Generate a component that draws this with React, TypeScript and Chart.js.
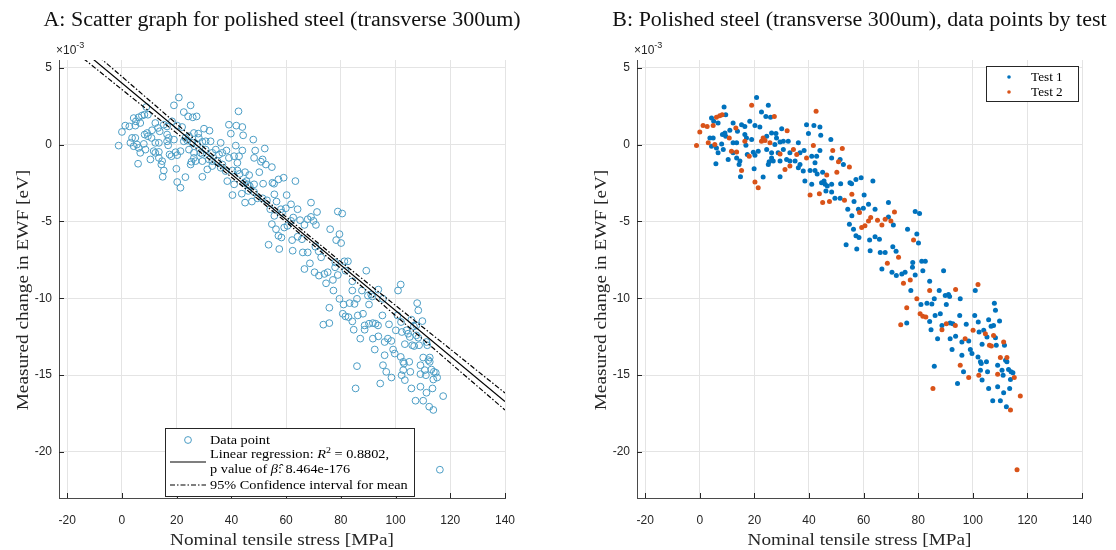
import React, { useEffect, useRef } from "react";
import { Chart, registerables } from "chart.js";

Chart.register(...registerables);

// ---------------- data (units: MPa, x10^-3 eV) ----------------
const test1X = [
  20.8, 8.9, 25.1, 22.6, 24.2, 25.9, 9.5, 4.3, 5.1, 6.7, 12.2, 15.3, 16.5, 18.3, 20.2, 22.0, 11.0, 9.2, 9.5, 8.3,
  13.8, 16.5, 19.0, 17.1, 24.5, 26.3, 27.9, 30.0, 3.7, 4.9, 4.3, 6.1, 8.0, 12.2, 13.5, 16.9, 27.5, 28.1, 29.4, 30.6,
  32.4, 36.1, 6.7, 8.6, 12.2, 19.6, 21.4, 20.2, 17.4, 24.5, 26.3, 28.7, 30.6, 33.0, 36.7, 10.4, 13.5, 14.7, 26.3, 25.4,
  26.9, 29.4, 31.8, 33.0, 34.9, 5.9, 14.4, 25.1, 36.7, 36.1, 19.9, 37.9, 14.9, 23.2, 29.4, 38.5, 39.1,
  41.8, 44.0, 39.8, 44.3, 48.0, 38.2, 41.0, 42.8, 42.2, 44.0, 48.3, 51.4, 52.6, 40.4, 42.2, 43.0, 45.0, 41.0, 45.5, 45.9,
  46.7, 44.6, 48.3, 46.2, 48.3, 49.5, 51.4, 51.6, 55.0, 55.6, 57.2, 59.1, 63.4, 60.2, 56.5, 69.1, 54.2, 58.1, 59.9, 61.8,
  64.2, 55.7, 54.8, 56.3, 57.2, 58.3, 69.1, 70.9, 64.2, 65.8, 62.2, 53.6, 57.5, 62.4, 66.1, 67.9, 70.7, 71.9, 76.1,
  78.9, 80.5, 79.5, 80.1, 78.0, 77.9, 78.9, 81.3, 82.6, 81.7, 77.3, 84.2, 89.3, 75.8, 81.0, 83.2, 85.0, 85.9, 87.7, 89.9,
  91.1, 91.5, 95.4, 90.3, 88.1, 86.2, 84.2, 84.7, 87.1, 85.9, 88.7, 91.7, 92.7, 91.7, 93.7, 95.2, 97.6, 98.5, 96.0, 100.7,
  102.0, 102.3, 104.0, 105.8, 105.2, 103.4, 100.9, 92.4, 96.0, 99.1, 99.7, 101.9, 102.8, 103.1, 102.8, 105.0, 103.4, 96.6,
  94.4, 105.4, 66.7, 70.4, 72.0, 74.0, 75.2,
  107.9, 108.3, 109.8, 107.6, 106.7, 108.3, 111.6, 108.6, 112.0, 112.5, 109.1, 110.7, 111.1, 113.1, 114.0, 114.7, 113.8,
  105.8, 109.1, 113.5, 107.3, 110.1, 111.3, 112.3,
];
const test1Y = [
  3.06, 2.44, 2.55, 2.11, 1.83, 1.77, 1.94, 1.72, 1.51, 1.40, 1.40, 1.29, 1.18, 1.51, 1.23, 1.14, 0.93, 0.75, 0.54, 0.65,
  0.86, 0.65, 0.32, 0.43, 0.54, 0.75, 0.71, 1.03, 0.43, 0.43, -0.11, -0.22, 0.04, 0.11, 0.11, -0.05, 0.0, 0.43, 0.17, 0.21,
  0.21, 0.11, -0.54, -0.33, -0.54, -0.50, -0.43, -0.69, -0.65, -0.33, -0.54, -0.54, -0.33, -0.54, -0.54, -0.97, -0.87, -1.08, -0.87, -1.12,
  -1.08, -1.08, -0.97, -1.08, -1.08, -1.25, -1.30, -1.30, -1.30, -1.51, -1.58, -1.73, -2.10, -2.12, -2.10, -2.38, 1.29,
  1.23, 1.14, 0.71, 0.60, 0.32, -0.39, -0.76, -0.76, -1.19, -0.39, -0.87, -0.97, -1.30, -1.69, -1.69, -1.91, -1.80, -2.59, -2.38, -2.59,
  -2.70, -2.49, -2.59, -3.02, -3.09, -3.50, -3.50, -2.55, -2.49, -2.55, -2.27, -2.16, -2.38, -3.29, -3.71, -3.78, -4.21, -4.21, -4.15, -3.89,
  -4.21, -4.64, -5.18, -5.51, -5.94, -6.05, -4.71, -5.23, -6.00, -6.16, -6.22, -6.52, -6.80, -6.91, -7.02, -7.02, -6.65, -6.95, -5.51,
  -4.36, -4.49, -5.83, -6.41, -7.67, -7.99, -8.49, -7.60, -7.60, -8.21, -9.50, -8.90, -8.21, -11.62, -10.41, -10.32, -10.37, -10.04, -9.50, -9.83,
  -9.76, -9.89, -10.04, -10.41, -11.01, -11.12, -11.51, -12.05, -12.63, -14.42, -11.77, -11.62, -11.66, -12.63, -12.48, -11.12, -11.70, -12.78, -12.85, -11.12,
  -11.55, -12.20, -12.09, -11.40, -12.52, -12.99, -9.50, -13.34, -13.71, -13.34, -13.60, -13.82, -14.14, -14.25, -14.68, -14.14, -15.33, -14.79,
  -15.55, -14.79, -8.10, -8.31, -8.53, -8.42, -8.31,
  -10.32, -10.79, -11.49, -11.77, -11.83, -12.57, -13.06, -13.06, -14.03, -14.14, -14.36, -14.68, -15.01, -14.64, -14.79, -14.85, -15.29,
  -15.87, -15.76, -15.87, -16.67, -16.67, -16.15, -17.06,
];
const test2X = [
  19.0, 27.3, 6.1, 7.3, 8.2, 1.2, 2.7, 4.9, 0.0, 13.2, 10.8, 3.1, -1.2, 5.5, 16.5, 22.6, 23.9, 23.2, 25.7, 32.0,
  11.6, 13.5, 18.1, 29.4, 34.3, 35.5, 31.2, 33.0, 15.3, 20.2, 21.4,
  42.6, 41.6, 39.1, 48.7, 52.2, 50.8, 54.8, 50.2, 46.5, 40.4, 43.8, 45.0, 47.5, 53.0, 55.7, 58.5, 59.3, 60.5, 61.8, 62.6,
  65.1, 66.7, 67.9, 70.0, 71.3, 72.8,
  78.3, 77.1, 74.6, 84.2, 79.5, 75.8, 73.6, 80.7, 81.7, 82.8, 85.4, 90.3, 88.7, 93.6, 97.2, 100.1, 104.6, 106.1, 101.9, 95.4,
  102.2, 98.5, 93.7, 68.7,
  107.6, 106.8, 111.3, 110.1, 112.5, 109.1, 115.2, 117.4, 113.8, 116.2,
];
const test2Y = [
  2.55, 1.83, 1.77, 1.88, 1.94, 1.23, 1.18, 1.23, 0.82, 1.08, 0.43, 0.11, -0.07, 0.0, 0.21, 0.21, 0.26, 0.43, 0.11, 0.90,
  -0.43, -0.48, -0.76, -0.61, -0.33, -0.65, -1.62, -1.40, -1.69, -2.44, -2.81,
  2.16, -0.07, -0.87, -0.39, -0.26, -1.12, -1.47, -1.80, -1.99, -3.29, -3.20, -3.78, -3.71, -3.63, -3.24, -4.43, -5.40, -5.29, -4.97, -4.75,
  -4.92, -5.23, -4.86, -4.97, -4.39, -7.34,
  -6.22, -8.81, -9.03, -9.50, -10.04, -10.62, -11.72, -11.01, -11.18, -11.23, -15.87, -11.66, -12.05, -11.77, -12.63, -12.09, -12.31, -13.06, -9.11, -14.36,
  -15.01, -15.16, -9.44, -7.73,
  -12.42, -13.11, -12.85, -13.86, -13.86, -14.94, -15.16, -16.37, -17.27, -21.16,
];

// fitted line and 95% CI for mean
const fitX = [-23, 140];
const fitY = [7.40, -16.72];
const ciX = [-23, 0, 20, 40, 60, 80, 100, 120, 140];
const ciUpper = [7.93, 4.42, 1.34, -1.72, -4.71, -7.62, -10.47, -13.31, -16.17];
const ciLower = [6.87, 3.58, 0.74, -2.12, -5.05, -8.06, -11.13, -14.21, -17.27];

const X_MIN = -23, X_MAX = 140, X_STEP = 20;
const Y_MIN = -23, Y_MAX = 5.5, Y_STEP = 5;

const titleA = "A: Scatter graph for polished steel (transverse 300um)";
const titleB = "B: Polished steel (transverse 300um), data points by test";
const xAxisLabel = "Nominal tensile stress [MPa]";
const yAxisLabel = "Measured change in EWF [eV]";
const legendB = ["Test 1", "Test 2"];
const r2Value = "0.8802";
const pValue = "8.464e-176";

// ---------------- styling ----------------
const SERIF = '"Liberation Serif", "DejaVu Serif", serif';
const SANS = '"Liberation Sans", Arial, sans-serif';
const INK = "#262626";
const BLUE = "#0072BD";
const ORANGE = "#D95319";
const CIRCLE = "#4b9dc5";
const GRID = "#e4e4e4";
const STRETCH = 1.1;
const CI_DASH = [5, 2, 1.5, 2];

type Run = { text: string; italic?: boolean; sup?: boolean };

function drawRuns(ctx: CanvasRenderingContext2D, runs: Run[], x: number, y: number, size: number, align: "left" | "center" = "left") {
  // measure first
  let total = 0;
  const widths: number[] = [];
  for (const r of runs) {
    const s = r.sup ? size * 0.7 : size;
    ctx.font = `${r.italic ? "italic " : ""}${s}px ${SERIF}`;
    const w = ctx.measureText(r.text).width * STRETCH;
    widths.push(w);
    total += w;
  }
  let cx = align === "center" ? x - total / 2 : x;
  runs.forEach((r, i) => {
    const s = r.sup ? size * 0.7 : size;
    ctx.save();
    ctx.font = `${r.italic ? "italic " : ""}${s}px ${SERIF}`;
    ctx.textAlign = "left";
    ctx.textBaseline = "alphabetic";
    ctx.translate(cx, r.sup ? y - size * 0.42 : y);
    ctx.scale(STRETCH, 1);
    ctx.fillText(r.text, 0, 0);
    ctx.restore();
    cx += widths[i];
  });
  return total;
}

function makeDecor(kind: "A" | "B") {
  return {
    id: "decor" + kind,
    afterDraw(chart: any) {
      const ctx: CanvasRenderingContext2D = chart.ctx;
      const ca = chart.chartArea;
      const xs = chart.scales.x;
      const ys = chart.scales.y;
      ctx.save();
      // inward tick marks
      ctx.strokeStyle = INK;
      ctx.lineWidth = 1;
      ctx.beginPath();
      xs.ticks.forEach((t: any) => {
        const p = Math.round(xs.getPixelForValue(t.value)) + 0.5;
        ctx.moveTo(p, ca.bottom);
        ctx.lineTo(p, ca.bottom - 5);
      });
      ys.ticks.forEach((t: any) => {
        const p = Math.round(ys.getPixelForValue(t.value)) + 0.5;
        ctx.moveTo(ca.left, p);
        ctx.lineTo(ca.left + 5, p);
      });
      ctx.stroke();

      // exponent label
      ctx.fillStyle = INK;
      ctx.textAlign = "left";
      ctx.textBaseline = "alphabetic";
      ctx.font = `12px ${SANS}`;
      ctx.fillText("\u00d710", ca.left - 3, ca.top - 6);
      const w = ctx.measureText("\u00d710").width;
      ctx.font = `9px ${SANS}`;
      ctx.fillText("-3", ca.left - 3 + w, ca.top - 12);

      const cx = (ca.left + ca.right) / 2;
      // title
      ctx.fillStyle = "#111";
      drawRuns(ctx, [{ text: kind === "A" ? titleA : titleB }], cx, 26, 20, "center");
      // x label
      ctx.fillStyle = INK;
      drawRuns(ctx, [{ text: xAxisLabel }], cx, 545, 17.5, "center");
      // y label
      ctx.save();
      ctx.translate(ca.left - 31, 290);
      ctx.rotate(-Math.PI / 2);
      drawRuns(ctx, [{ text: yAxisLabel }], 0, 0, 17.5, "center");
      ctx.restore();

      if (kind === "A") {
        const L = 165, T = 428, R = 415, B = 497;
        ctx.fillStyle = "#fff";
        ctx.fillRect(L, T, R - L, B - T);
        ctx.strokeStyle = INK;
        ctx.lineWidth = 1;
        ctx.strokeRect(L + 0.5, T + 0.5, R - L - 1, B - T - 1);
        ctx.beginPath();
        ctx.strokeStyle = CIRCLE;
        ctx.arc(188, 440, 3.4, 0, Math.PI * 2);
        ctx.stroke();
        ctx.strokeStyle = "#000";
        ctx.lineWidth = 1.2;
        ctx.beginPath();
        ctx.moveTo(170, 462);
        ctx.lineTo(206, 462);
        ctx.stroke();
        ctx.setLineDash(CI_DASH);
        ctx.beginPath();
        ctx.moveTo(170, 485);
        ctx.lineTo(206, 485);
        ctx.stroke();
        ctx.setLineDash([]);
        ctx.fillStyle = "#000";
        drawRuns(ctx, [{ text: "Data point" }], 210, 444, 13);
        drawRuns(ctx, [{ text: "Linear regression: " }, { text: "R", italic: true }, { text: "2", sup: true }, { text: " = " + r2Value + "," }], 210, 458, 13);
        drawRuns(ctx, [{ text: "p value of " }, { text: "\u03b2\u0302", italic: true }, { text: ": " + pValue }], 210, 472.5, 13);
        drawRuns(ctx, [{ text: "95% Confidence interval for mean" }], 210, 489, 13);
      } else {
        const L = 428, T = 66, R = 521, B = 102;
        ctx.fillStyle = "#fff";
        ctx.fillRect(L, T, R - L, B - T);
        ctx.strokeStyle = INK;
        ctx.lineWidth = 1;
        ctx.strokeRect(L + 0.5, T + 0.5, R - L - 1, B - T - 1);
        const rows = [77, 92];
        [BLUE, ORANGE].forEach((c, i) => {
          ctx.beginPath();
          ctx.fillStyle = c;
          ctx.arc(451, rows[i], 1.8, 0, Math.PI * 2);
          ctx.fill();
          ctx.fillStyle = "#000";
          drawRuns(ctx, [{ text: legendB[i] }], 473, rows[i] + 4, 12);
        });
      }
      ctx.restore();
    },
  };
}

function scalesConfig() {
  return {
    x: {
      type: "linear",
      position: "bottom",
      min: X_MIN,
      max: X_MAX,
      afterFit: (s: any) => {
        s.height = 52;
      },
      ticks: {
        stepSize: X_STEP,
        includeBounds: false,
        padding: 15,
        color: INK,
        autoSkip: false,
        maxRotation: 0,
        font: { family: SANS, size: 12 },
        callback: (v: any) => String(v),
      },
      grid: { color: GRID, drawTicks: false, lineWidth: 1 },
      border: { display: true, color: "#4a4a4a", width: 1 },
    },
    y: {
      type: "linear",
      position: "left",
      min: Y_MIN,
      max: Y_MAX,
      afterFit: (s: any) => {
        s.width = 59;
      },
      ticks: {
        stepSize: Y_STEP,
        includeBounds: false,
        padding: 7,
        color: INK,
        autoSkip: false,
        font: { family: SANS, size: 12 },
        callback: (v: any) => String(v),
      },
      grid: { color: GRID, drawTicks: false, lineWidth: 1 },
      border: { display: true, color: "#4a4a4a", width: 1 },
    },
  };
}

function pts(xs: number[], ys: number[]) {
  return xs.map((x, i) => ({ x, y: ys[i] }));
}

export default function App() {
  const leftRef = useRef<HTMLCanvasElement>(null);
  const rightRef = useRef<HTMLCanvasElement>(null);

  useEffect(() => {
    const common = {
      animation: false,
      responsive: false,
      events: [],
      plugins: { legend: { display: false }, tooltip: { enabled: false }, title: { display: false } },
    };
    const chartA = new Chart(leftRef.current as HTMLCanvasElement, {
      type: "scatter",
      data: {
        datasets: [
          {
            data: pts([...test1X, ...test2X], [...test1Y, ...test2Y]),
            pointRadius: 3.4,
            pointBorderWidth: 1,
            pointBackgroundColor: "rgba(0,0,0,0)",
            pointBorderColor: CIRCLE,
            order: 3,
          },
          {
            data: pts(fitX, fitY),
            showLine: true,
            borderColor: "#000",
            borderWidth: 1.2,
            pointRadius: 0,
            order: 1,
          },
          {
            data: pts(ciX, ciUpper),
            showLine: true,
            borderColor: "#000",
            borderWidth: 1.2,
            borderDash: CI_DASH,
            pointRadius: 0,
            order: 2,
          },
          {
            data: pts(ciX, ciLower),
            showLine: true,
            borderColor: "#000",
            borderWidth: 1.2,
            borderDash: CI_DASH,
            pointRadius: 0,
            order: 2,
          },
        ],
      } as any,
      options: {
        ...common,
        layout: { padding: { left: 0, right: 53, top: 60, bottom: 0 } },
        scales: scalesConfig(),
      } as any,
      plugins: [makeDecor("A")],
    });

    const chartB = new Chart(rightRef.current as HTMLCanvasElement, {
      type: "scatter",
      data: {
        datasets: [
          {
            data: pts(test1X, test1Y),
            pointRadius: 2.5,
            pointBorderWidth: 0,
            pointBackgroundColor: BLUE,
            pointBorderColor: BLUE,
            order: 2,
          },
          {
            data: pts(test2X, test2Y),
            pointRadius: 2.5,
            pointBorderWidth: 0,
            pointBackgroundColor: ORANGE,
            pointBorderColor: ORANGE,
            order: 1,
          },
        ],
      } as any,
      options: {
        ...common,
        layout: { padding: { left: 20, right: 34, top: 60, bottom: 0 } },
        scales: scalesConfig(),
      } as any,
      plugins: [makeDecor("B")],
    });

    return () => {
      chartA.destroy();
      chartB.destroy();
    };
  }, []);

  return (
    <div style={{ position: "absolute", left: 0, top: 0, width: 1116, height: 550, background: "#fff" }}>
      <canvas ref={leftRef} width={558} height={550} style={{ position: "absolute", left: 0, top: 0, width: 558, height: 550 }} />
      <canvas ref={rightRef} width={558} height={550} style={{ position: "absolute", left: 558, top: 0, width: 558, height: 550 }} />
    </div>
  );
}
